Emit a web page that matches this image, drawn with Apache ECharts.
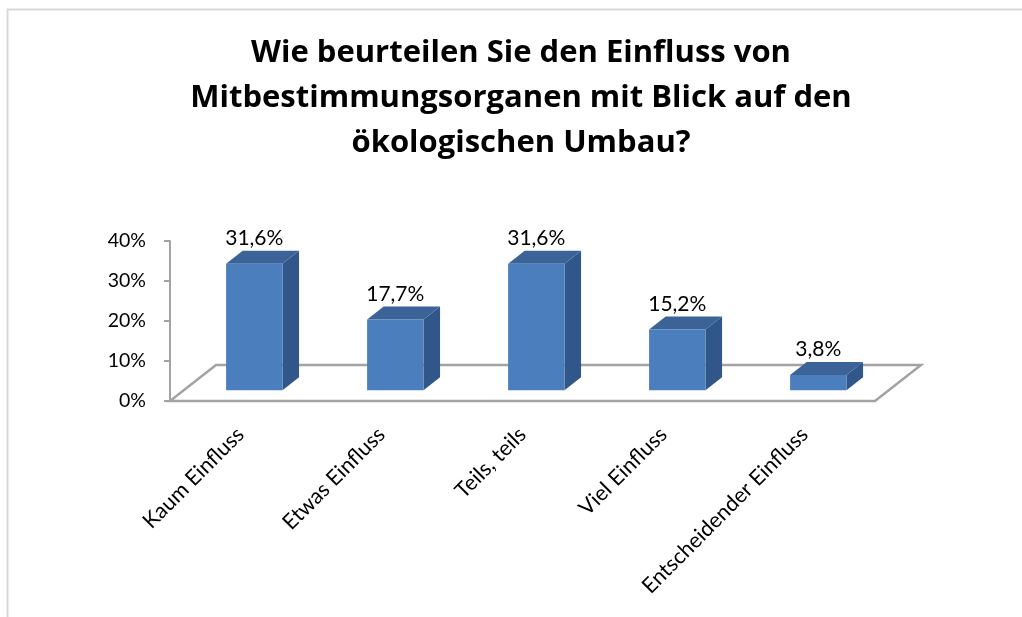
<!DOCTYPE html>
<html>
<head>
<meta charset="utf-8">
<script src="https://cdn.jsdelivr.net/npm/echarts@6/dist/echarts.min.js"></script>
<style>
  html, body { margin: 0; padding: 0; background: #fff; }
  #main { width: 1022px; height: 617px; }
</style>
</head>
<body>
<div id="main"></div>
<script>
// Data
const categories = ['Kaum Einfluss', 'Etwas Einfluss', 'Teils, teils', 'Viel Einfluss', 'Entscheidender Einfluss'];
const shares = [31.6, 17.7, 31.6, 15.2, 3.8];
const yMin = 0;
const yMax = 40;
const yStep = 10;
const titleLines = ['Wie beurteilen Sie den Einfluss von', 'Mitbestimmungsorganen mit Blick auf den', 'ökologischen Umbau?'];

// pseudo 3d look (pixels)
const DEPTH_X = 46;
const DEPTH_Y = 36;
const Z_FRONT = 0.3;
const Z_BACK = 0.66;
const BAR_RATIO = 0.4;
const FONT = 'Lato, "Open Sans", sans-serif';
const TITLE_FONT = '"Open Sans", Lato, sans-serif';

const chart = echarts.init(document.getElementById('main'));

function fmt(v) {
    return v.toFixed(1).replace('.', ',') + '%';
}

function renderFloor(params, api) {
    const cs = params.coordSys;
    const x0 = cs.x, x1 = cs.x + cs.width, y0 = cs.y + cs.height;
    return {
        type: 'polygon',
        shape: { points: [[x0, y0], [x1, y0], [x1 + DEPTH_X, y0 - DEPTH_Y], [x0 + DEPTH_X, y0 - DEPTH_Y]] },
        style: { fill: '#fff', stroke: '#A3A3A3', lineWidth: 2.5 }
    };
}

function renderBar(params, api) {
    const idx = api.value(0);
    const val = api.value(1);
    const base = api.coord([idx, 0]);
    const top = api.coord([idx, val]);
    const w = api.size([1, 0])[0] * BAR_RATIO;
    const x0 = base[0] - w / 2 + DEPTH_X * Z_FRONT;
    const x1 = x0 + w;
    const yb = base[1] - DEPTH_Y * Z_FRONT;
    const yt = top[1] - DEPTH_Y * Z_FRONT;
    const dx = DEPTH_X * (Z_BACK - Z_FRONT);
    const dy = -DEPTH_Y * (Z_BACK - Z_FRONT);
    return {
        type: 'group',
        children: [
            { type: 'polygon', shape: { points: [[x1, yt], [x1, yb], [x1 + dx, yb + dy], [x1 + dx, yt + dy]] },
              style: { fill: '#31578A' } },
            { type: 'polygon', shape: { points: [[x0, yt], [x1, yt], [x1 + dx, yt + dy], [x0 + dx, yt + dy]] },
              style: { fill: '#3B6398' } },
            { type: 'rect', shape: { x: x0, y: yt, width: w, height: yb - yt },
              style: { fill: '#4A7EBD' } },
            { type: 'text', x: (x0 + x1) / 2, y: yt + dy - 2,
              style: { text: fmt(val), align: 'center', verticalAlign: 'bottom',
                       font: '21px ' + FONT, fill: '#000' } }
        ]
    };
}

chart.setOption({
    animation: false,
    backgroundColor: '#fff',
    title: {
        text: titleLines.join('\n'),
        left: 521,
        top: 31,
        padding: 0,
        textAlign: 'center',
        textStyle: { fontFamily: TITLE_FONT, fontWeight: 'bold', fontSize: 31, lineHeight: 45, color: '#000' }
    },
    graphic: [{
        type: 'rect', left: 5, top: 7, silent: true,
        shape: { width: 1100, height: 700 },
        style: { fill: 'none', stroke: '#D9D9D9', lineWidth: 2 }
    }],
    grid: { left: 170, right: 147, top: 241, bottom: 216 },
    xAxis: {
        type: 'category',
        data: categories,
        axisLine: { show: false },
        axisTick: { show: false },
        axisLabel: { interval: 0, rotate: 45, margin: 30, fontFamily: FONT, fontSize: 21.5, color: '#000' }
    },
    yAxis: {
        type: 'value',
        min: yMin, max: yMax, interval: yStep,
        axisLine: { show: true, lineStyle: { color: '#A3A3A3', width: 2 } },
        axisTick: { show: true, length: 6, lineStyle: { color: '#A3A3A3', width: 2 } },
        splitLine: { show: false },
        axisLabel: { formatter: '{value}%', margin: 24, fontFamily: FONT, fontSize: 19.5, color: '#000' }
    },
    series: [
        { type: 'custom', renderItem: renderFloor, data: [[0, 0]], z: 1, silent: true },
        { type: 'custom', renderItem: renderBar, data: shares.map((v, i) => [i, v]), z: 2 }
    ]
});
</script>
</body>
</html>
